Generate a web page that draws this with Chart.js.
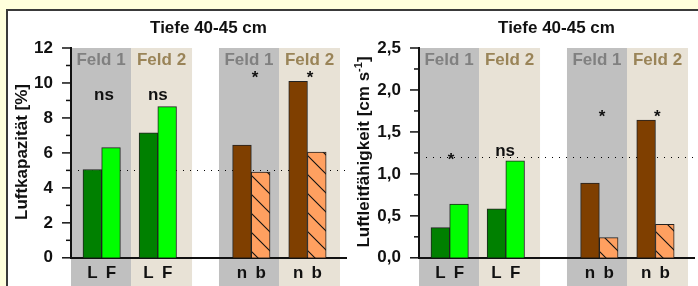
<!DOCTYPE html>
<html><head><meta charset="utf-8">
<script src="https://cdn.jsdelivr.net/npm/chart.js@4.4.0/dist/chart.umd.min.js"></script>
<style>
html,body{margin:0;padding:0;width:698px;height:286px;overflow:hidden;background:#FFFFDC;}
#frame{position:absolute;left:6px;top:9px;width:720px;height:300px;background:#fff;border-top:2px solid #3a3a3a;border-left:2px solid #3a3a3a;}
canvas{position:absolute;top:0;}
#c1{left:0}
#c2{left:348px}
</style></head><body>
<div id="frame"></div>
<canvas id="c1" width="348" height="286"></canvas>
<canvas id="c2" width="350" height="286"></canvas>
<script>
// ---- data ----
const panelTitle = 'Tiefe 40-45 cm';
const fieldLabels = ['Feld 1', 'Feld 2', 'Feld 1', 'Feld 2'];
const barLabels = ['L', 'F', 'L', 'F', 'n', 'b', 'n', 'b'];
const luftkapazitaet = [5.05, 6.3, 7.15, 8.65, 6.45, 4.9, 10.1, 6.05];
const luftleitfaehigkeit = [0.36, 0.64, 0.585, 1.155, 0.89, 0.24, 1.64, 0.40];
const kapTickLabels = ['0', '2', '4', '6', '8', '10', '12'];
const leitTickLabels = ['0,0', '0,5', '1,0', '1,5', '2,0', '2,5'];
const kapReference = 5;
const leitReference = 1.2;
const kapSignificance = ['ns', 'ns', '*', '*'];
const leitSignificance = ['*', 'ns', '*', '*'];

// ---- layout (x in bar-slot units) ----
const barSlots = [0, 1, 3, 4, 8, 9, 11, 12];
const xRange = [-1.14, 13.56];
const bandEdges = [[-1.14, 2.07], [2.07, 5.33], [6.77, 9.98], [9.98, 13.24]];
const kapSigPos = [[0.62, 9.0], [3.5, 9.0], [8.7, 10.0], [11.64, 10.0]];
const leitSigPos = [[0.57, 1.11], [3.46, 1.21], [8.65, 1.62], [11.6, 1.62]];

const FONT = "'Liberation Sans', Arial, sans-serif";
const bandColors = ['#C0C0C0', '#E8E2D6', '#C0C0C0', '#E8E2D6'];
const fieldColors = ['#808080', '#9A8458', '#808080', '#9A8458'];

function hatch() {
  const s = 19;
  const c = document.createElement('canvas');
  c.width = s; c.height = s;
  const g = c.getContext('2d');
  g.fillStyle = '#FFA060';
  g.fillRect(0, 0, s, s);
  g.strokeStyle = '#111';
  g.lineWidth = 1.1;
  g.beginPath();
  g.moveTo(-1, -1); g.lineTo(s + 1, s + 1);
  g.moveTo(-3, s - 3); g.lineTo(3, s + 3);
  g.moveTo(s - 3, -3); g.lineTo(s + 3, 3);
  g.stroke();
  return g.createPattern(c, 'repeat');
}
const hp = hatch();
const barColors = ['#008000', '#00FF00', '#008000', '#00FF00', '#7F3F00', hp, '#7F3F00', hp];

function makeChart(id, values, yMax, step, tickLabels, majorStep, ref, sigs, sigPos, yTitle, titleX, rightPad) {
  const deco = {
    id: 'deco' + id,
    beforeDraw(chart) {
      const {ctx, chartArea} = chart;
      const xs = chart.scales.x;
      ctx.save();
      bandEdges.forEach((b, i) => {
        const x0 = xs.getPixelForValue(b[0]);
        const x1 = xs.getPixelForValue(b[1]);
        ctx.fillStyle = bandColors[i];
        ctx.fillRect(x0, chartArea.top, x1 - x0, chart.height - chartArea.top);
      });
      ctx.restore();
    },
    beforeDatasetsDraw(chart) {
      const {ctx, chartArea} = chart;
      const ys = chart.scales.y;
      ctx.save();
      const y = Math.round(ys.getPixelForValue(ref)) + 0.5;
      ctx.strokeStyle = '#000';
      ctx.lineWidth = 1;
      ctx.setLineDash([1, 6]);
      ctx.beginPath();
      ctx.moveTo(chartArea.left + 7, y);
      ctx.lineTo(chartArea.right, y);
      ctx.stroke();
      ctx.restore();
    },
    afterDraw(chart) {
      const {ctx, chartArea} = chart;
      const xs = chart.scales.x, ys = chart.scales.y;
      ctx.save();
      // y tick marks
      ctx.strokeStyle = '#111';
      ctx.lineWidth = 1.5;
      const n = Math.round(yMax / step);
      for (let k = 0; k <= n; k++) {
        const v = k * step;
        const major = Math.abs(v / majorStep - Math.round(v / majorStep)) < 1e-6;
        const len = major ? 9 : 5;
        const y = ys.getPixelForValue(v);
        ctx.beginPath();
        ctx.moveTo(chartArea.left - len, y);
        ctx.lineTo(chartArea.left, y);
        ctx.stroke();
      }
      // title
      ctx.fillStyle = '#111';
      ctx.font = 'bold 17px ' + FONT;
      ctx.textAlign = 'center';
      ctx.textBaseline = 'alphabetic';
      ctx.fillText(panelTitle, (chartArea.left + chartArea.right) / 2, 33);
      // field labels
      bandEdges.forEach((b, i) => {
        const xc = (xs.getPixelForValue(b[0]) + xs.getPixelForValue(b[1])) / 2;
        ctx.fillStyle = fieldColors[i];
        ctx.fillText(fieldLabels[i], xc, 65);
      });
      // significance
      ctx.fillStyle = '#111';
      sigs.forEach((s, i) => {
        ctx.fillText(s, xs.getPixelForValue(sigPos[i][0]), ys.getPixelForValue(sigPos[i][1]));
      });
      // y title
      ctx.translate(titleX, 152);
      ctx.rotate(-Math.PI / 2);
      ctx.textAlign = 'left';
      const parts = yTitle;
      let total = 0;
      parts.forEach(p => { ctx.font = p.font; total += ctx.measureText(p.t).width; });
      let x = -total / 2;
      parts.forEach(p => {
        ctx.font = p.font;
        ctx.fillText(p.t, x, p.dy || 0);
        x += ctx.measureText(p.t).width;
      });
      ctx.restore();
    }
  };

  return new Chart(document.getElementById(id), {
    type: 'bar',
    data: {
      datasets: [{
        data: values.map((v, i) => ({x: barSlots[i], y: v})),
        backgroundColor: barColors,
        borderColor: '#222',
        borderWidth: 1,
        barPercentage: 1,
        categoryPercentage: 1
      }]
    },
    options: {
      responsive: false,
      animation: false,
      events: [],
      layout: {padding: {left: 0, right: rightPad, top: 48, bottom: 0}},
      plugins: {legend: {display: false}, tooltip: {enabled: false}, title: {display: false}},
      scales: {
        x: {
          type: 'linear',
          offset: false,
          min: xRange[0],
          max: xRange[1],
          grid: {display: false, drawTicks: false, tickLength: 0, offset: false},
          border: {display: true, color: '#111', width: 2},
          afterBuildTicks: s => { s.ticks = barSlots.map(v => ({value: v})); },
          afterFit: s => { s.height = 26; },
          ticks: {
            autoSkip: false, maxRotation: 0, minRotation: 0, padding: 5,
            color: '#111', font: {family: FONT, size: 17, weight: 'bold'},
            callback: (v, i) => barLabels[i]
          }
        },
        y: {
          min: 0,
          max: yMax,
          grid: {display: false, drawTicks: false, tickLength: 0},
          border: {display: true, color: '#111', width: 2},
          afterFit: s => { s.width = 71; },
          ticks: {
            stepSize: step, autoSkip: false, padding: 18,
            color: '#111', font: {family: FONT, size: 17, weight: 'bold'},
            callback: v => {
              const q = v / majorStep;
              if (Math.abs(q - Math.round(q)) > 1e-6) return '';
              return tickLabels[Math.round(q)];
            }
          }
        }
      }
    },
    plugins: [deco]
  });
}

const bold17 = 'bold 17px ' + FONT;
makeChart('c1', luftkapazitaet, 12, 1, kapTickLabels, 2, kapReference, kapSignificance, kapSigPos,
  [{t: 'Luftkapazität [%]', font: bold17}], 27, 2);
makeChart('c2', luftleitfaehigkeit, 2.5, 0.25, leitTickLabels, 0.5, leitReference, leitSignificance, leitSigPos,
  [{t: 'Luftleitfähigkeit [cm s', font: bold17}, {t: '-1', font: 'bold 11px ' + FONT, dy: -7}, {t: ']', font: bold17}], 21, 4);
</script>
</body></html>
